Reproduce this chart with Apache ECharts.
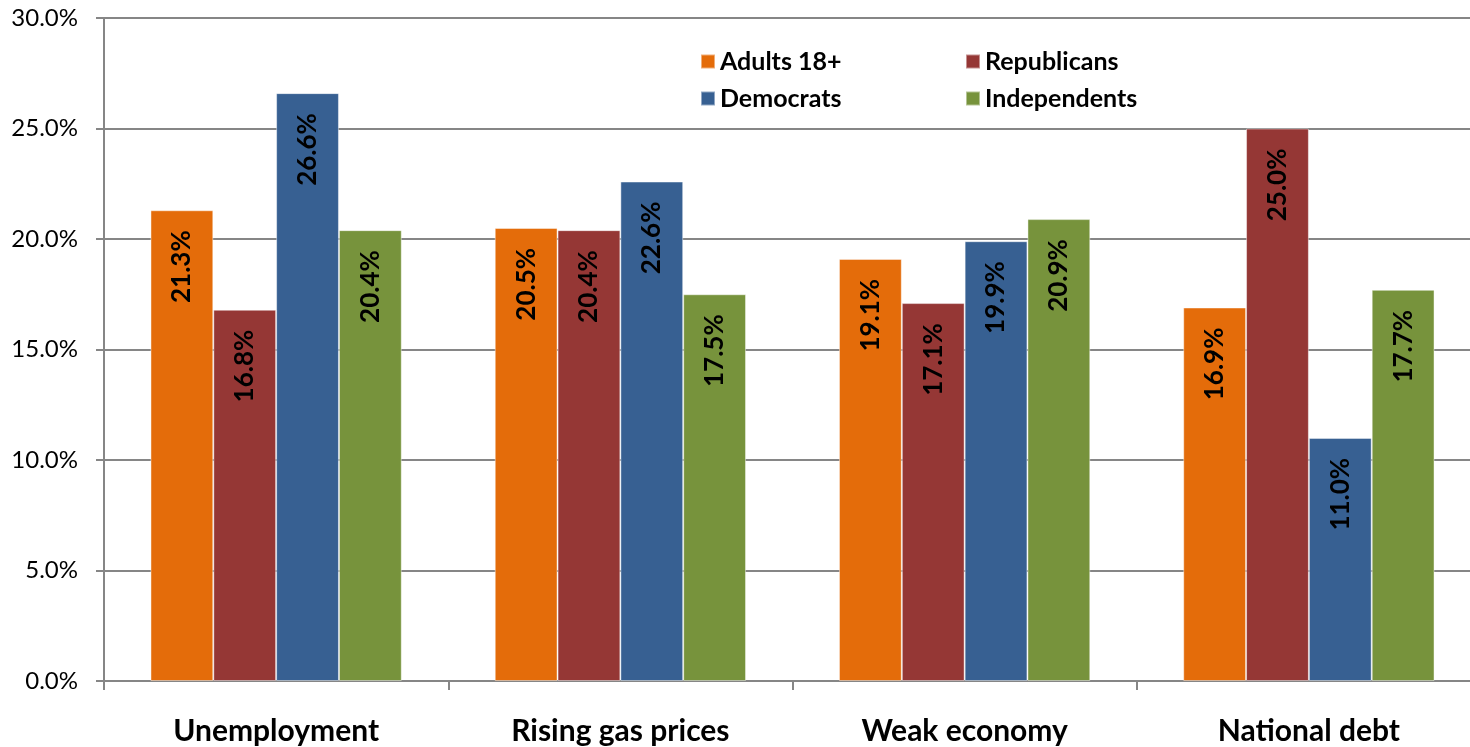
<!DOCTYPE html>
<html>
<head>
<meta charset="utf-8">
<script src="https://cdn.jsdelivr.net/npm/echarts@6/dist/echarts.min.js"></script>
<style>
  html, body { margin: 0; padding: 0; background: #fff; }
  #chart { width: 1470px; height: 747px; }
</style>
</head>
<body>
<div id="chart"></div>
<script>
  const categories = ["Unemployment", "Rising gas prices", "Weak economy", "National debt"];
  const seriesNames = ["Adults 18+", "Republicans", "Democrats", "Independents"];
  const adults = [21.3, 20.5, 19.1, 16.9];
  const republicans = [16.8, 20.4, 17.1, 25.0];
  const democrats = [26.6, 22.6, 19.9, 11.0];
  const independents = [20.4, 17.5, 20.9, 17.7];

  const font = "Lato";
  const chart = echarts.init(document.getElementById("chart"));

  function bar(name, data, color) {
    return {
      name: name,
      type: "bar",
      data: data,
      barGap: "0%",
      barCategoryGap: "27%",
      itemStyle: { color: color, borderColor: "rgba(255,255,255,0.45)", borderWidth: 1 },
      label: {
        show: true,
        position: "insideTop",
        rotate: 90,
        align: "right",
        verticalAlign: "middle",
        distance: 20,
        formatter: (p) => p.value.toFixed(1) + "%",
        fontFamily: font,
        fontWeight: "bold",
        fontSize: 26,
        color: "#000",
      },
    };
  }

  // one legend per item so the 2x2 layout lines up like the original
  const legendSpots = [
    [700, 49], [965, 49],
    [700, 86], [965, 86],
  ];
  const legends = seriesNames.map((name, i) => ({
    data: [name],
    left: legendSpots[i][0],
    top: legendSpots[i][1],
    padding: 0,
    itemWidth: 14,
    itemHeight: 14,
    icon: "rect",
    textStyle: { fontFamily: font, fontWeight: "bold", fontSize: 25, color: "#000" },
  }));

  chart.setOption({
    animation: false,
    legend: legends,
    grid: { left: 104, top: 18, right: -11, bottom: 66, outerBoundsMode: "none" },
    xAxis: {
      type: "category",
      data: categories,
      axisLine: { lineStyle: { color: "#868686", width: 2 } },
      axisTick: { show: true, length: 9, lineStyle: { color: "#868686", width: 2 } },
      axisLabel: {
        margin: 35,
        fontFamily: font,
        fontWeight: "bold",
        fontSize: 30,
        color: "#000",
      },
    },
    yAxis: {
      type: "value",
      min: 0,
      max: 30,
      interval: 5,
      axisLine: { show: true, lineStyle: { color: "#868686", width: 2 } },
      axisTick: { show: true, length: 8, lineStyle: { color: "#868686", width: 2 } },
      axisLabel: {
        margin: 26,
        formatter: (v) => v.toFixed(1) + "%",
        fontFamily: font,
        fontSize: 24,
        color: "#000",
      },
      splitLine: { lineStyle: { color: "#868686", width: 2 } },
    },
    series: [
      bar(seriesNames[0], adults, "#E46C0A"),
      bar(seriesNames[1], republicans, "#953735"),
      bar(seriesNames[2], democrats, "#376092"),
      bar(seriesNames[3], independents, "#77933C"),
    ],
  });
</script>
</body>
</html>
